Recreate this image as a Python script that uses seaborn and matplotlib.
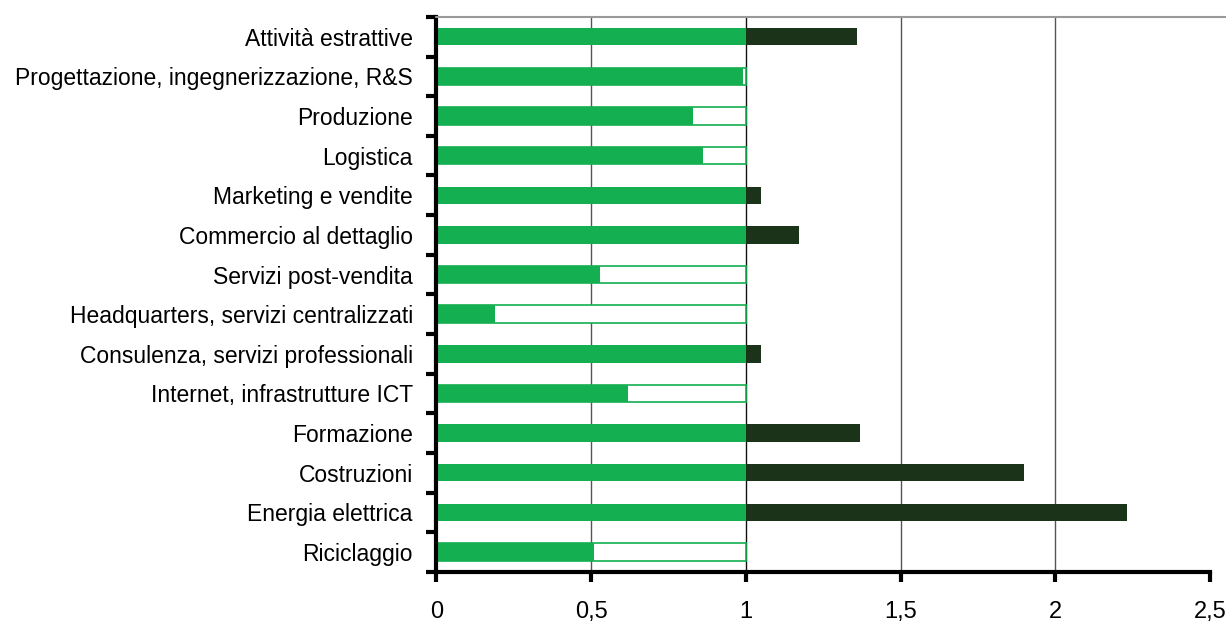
import matplotlib
matplotlib.use("Agg")
import matplotlib.pyplot as plt
import seaborn as sns
import numpy as np
import pandas as pd

categories = [
    "Attività estrattive",
    "Progettazione, ingegnerizzazione, R&S",
    "Produzione",
    "Logistica",
    "Marketing e vendite",
    "Commercio al dettaglio",
    "Servizi post-vendita",
    "Headquarters, servizi centralizzati",
    "Consulenza, servizi professionali",
    "Internet, infrastrutture ICT",
    "Formazione",
    "Costruzioni",
    "Energia elettrica",
    "Riciclaggio",
]
values = [1.36, 0.99, 0.83, 0.86, 1.05, 1.17, 0.53, 0.19, 1.05, 0.62, 1.37, 1.90, 2.23, 0.51]
xticks = [0, 0.5, 1, 1.5, 2, 2.5]
xtick_labels = ["0", "0,5", "1", "1,5", "2", "2,5"]

GREEN = "#14AF50"
DARK = "#1A3319"

sns.set_theme(style="white")
plt.rcParams["font.family"] = ["Liberation Sans", "DejaVu Sans"]

df = pd.DataFrame({"cat": categories, "v": values})
df["over"] = df["v"].where(df["v"] > 1, 0)
df["under"] = np.where(df["v"] < 1, 1.0, 0)
df["base"] = df["v"].clip(upper=1)

fig = plt.figure(figsize=(12.26, 6.25), dpi=100)
ax = fig.add_axes([0.356, 0.085, 0.631, 0.888])

for xv in [0.5, 1, 1.5, 2]:
    ax.axvline(xv, color="#555555" if xv != 1 else "#111111", lw=1, zorder=0)

bw = 0.44
sns.barplot(data=df, y="cat", x="over", color=DARK, width=bw, saturation=1, ax=ax,
            orient="h", linewidth=0, zorder=2)
sns.barplot(data=df, y="cat", x="under", color="white", edgecolor=GREEN, linewidth=1.2,
            width=bw, saturation=1, ax=ax, orient="h", zorder=2)
sns.barplot(data=df, y="cat", x="base", color=GREEN, width=bw, saturation=1, ax=ax,
            orient="h", linewidth=0, zorder=3)

ax.set_xlim(0, 2.5)
ax.set_ylim(len(categories) - 0.5, -0.5)
ax.set_xticks(xticks)
ax.set_xticklabels(xtick_labels, fontsize=17, color="black")
ax.set_yticks(range(len(categories)))
ax.set_yticklabels(categories, fontsize=16.5, color="black")
ax.set_xlabel("")
ax.set_ylabel("")

# category boundary ticks on the left spine
ax.set_yticks(np.arange(-0.5, len(categories), 1), minor=True)
ax.tick_params(axis="y", which="major", length=0, pad=17)
ax.tick_params(axis="y", which="minor", length=7, width=3, color="black", left=True)
ax.tick_params(axis="x", which="major", length=7, width=3, color="black", bottom=True, pad=14)

for s in ["left", "bottom"]:
    ax.spines[s].set_color("black")
    ax.spines[s].set_linewidth(3)
    ax.spines[s].set_zorder(5)
ax.spines["top"].set_visible(False)
ax.spines["right"].set_visible(False)
# gray frame line across the top, running to the figure edge
fig.add_artist(plt.Line2D([0.356, 1.0], [0.973, 0.973], color="#999999", lw=1.5))

fig.savefig("out.png", dpi=100)
